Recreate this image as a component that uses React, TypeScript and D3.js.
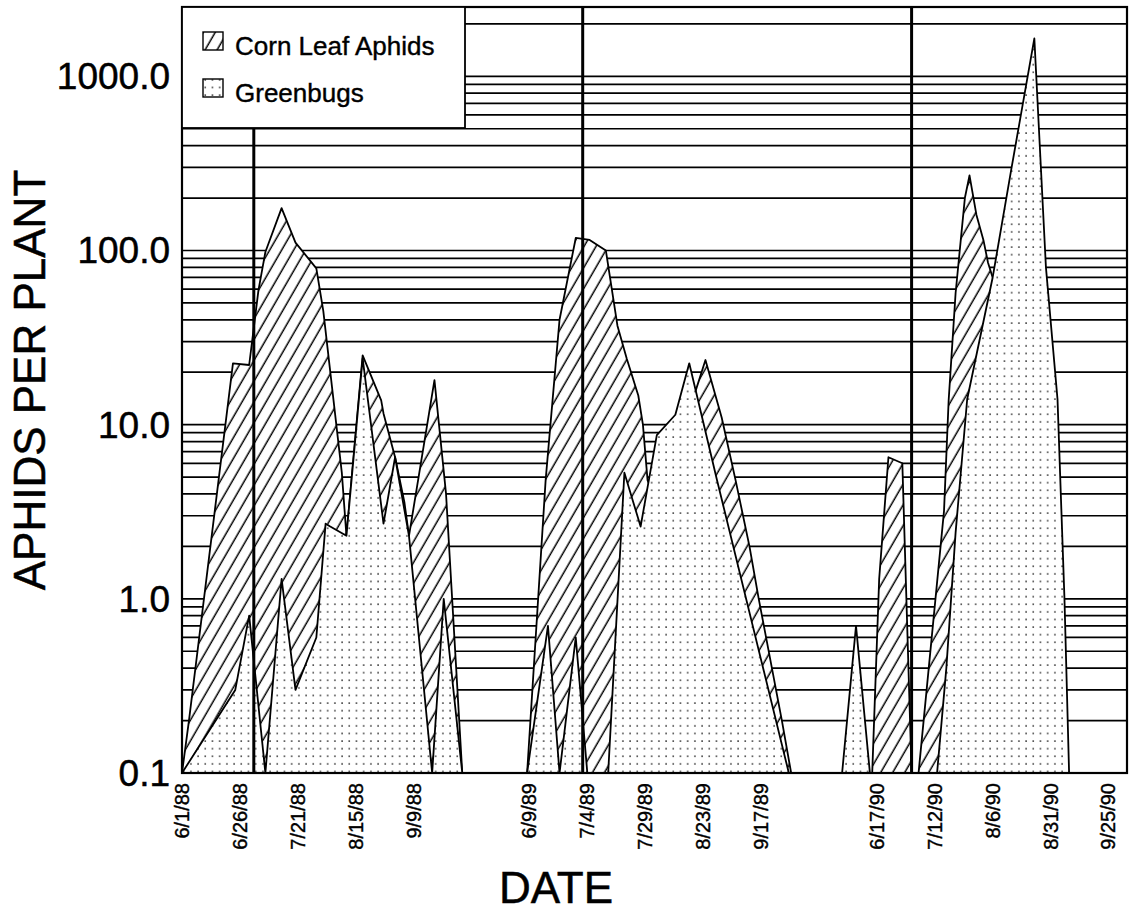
import { useEffect, useRef } from 'react'
import * as d3 from 'd3'

// Corn leaf aphids per plant (hatched area)
const claDates = [
  '6/1/88', '6/4/88', '6/23/88', '6/30/88', '7/4/88', '7/7/88', '7/14/88', '7/20/88', '7/29/88', '8/1/88',
  '8/9/88', '8/11/88', '8/18/88', '8/26/88', '8/27/88', '9/1/88', '9/5/88', '9/7/88', '9/18/88', '9/23/88', '9/30/88',
  '6/8/89', '6/16/89', '6/22/89', '6/29/89', '7/5/89', '7/12/89', '7/17/89', '7/21/89', '7/26/89', '7/28/89',
  '7/30/89', '8/3/89', '8/11/89', '8/17/89', '8/24/89', '8/31/89', '9/6/89', '9/12/89', '9/16/89', '9/26/89', '9/30/89',
  '6/15/90', '6/18/90', '6/22/90', '6/28/90', '7/2/90', '7/5/90', '7/16/90', '7/18/90', '7/21/90', '7/25/90',
  '7/27/90', '7/30/90', '8/2/90', '8/4/90', '8/6/90', '8/14/90', '8/24/90', '8/29/90',
]
const claValues = [
  0.1, 0.2, 22.5, 22, 59, 98, 175, 111, 79, 45,
  5.3, 2.3, 25, 13.8, 11.6, 6.5, 3.6, 2.3, 18, 4, 0.1,
  0.1, 4.8, 40, 118, 115, 100, 37, 24, 14.7, 10,
  4.8, 3.5, 6, 12, 23.5, 11, 4.8, 2.0, 1.0, 0.2, 0.1,
  0.1, 1.3, 6.5, 6.0, 0.1, 0.1, 3.2, 13.8, 57, 200,
  270, 160, 115, 85, 70, 20, 1.0, 0.1,
]

// Greenbugs per plant (dotted area)
const gbDates = [
  '6/1/88', '6/24/88', '6/30/88', '7/7/88', '7/14/88', '7/20/88', '7/29/88', '8/2/88', '8/4/88', '8/11/88',
  '8/18/88', '8/27/88', '9/1/88', '9/7/88', '9/17/88', '9/22/88', '9/30/88',
  '6/8/89', '6/17/89', '6/22/89', '6/29/89', '7/4/89', '7/13/89', '7/20/89', '7/27/89', '8/3/89', '8/11/89',
  '8/17/89', '8/29/89', '9/29/89',
  '6/2/90', '6/8/90', '6/14/90', '7/13/90', '7/17/90', '7/21/90', '7/26/90', '8/6/90', '8/14/90', '8/24/90',
  '8/29/90', '9/3/90', '9/6/90', '9/8/90',
]
const gbValues = [
  0.1, 0.3, 0.8, 0.1, 1.3, 0.3, 0.6, 2.7, 2.6, 2.3,
  24, 2.7, 6.5, 2.3, 0.1, 1.0, 0.1,
  0.1, 0.7, 0.1, 0.6, 0.1, 0.1, 5.3, 2.6, 8.7, 11.4,
  22.5, 4.8, 0.1,
  0.1, 0.7, 0.1, 0.1, 0.4, 2.4, 14, 70, 290, 1650,
  80, 14, 1.0, 0.1,
]

// heavy vertical reference lines, one per season
const markerDates = ['7/2/88', '7/2/89', '7/2/90']

// the three seasons are placed side by side (start, end of each)
const seasonBreaks = ['6/1/88', '10/21/88', '6/1/89', '10/21/89', '6/1/90', '10/3/90']

const tickLabels = [
  '6/1/88', '6/26/88', '7/21/88', '8/15/88', '9/9/88',
  '6/9/89', '7/4/89', '7/29/89', '8/23/89', '9/17/89',
  '6/17/90', '7/12/90', '8/6/90', '8/31/90', '9/25/90',
]
const yTicks = [0.1, 1, 10, 100, 1000]

const parseDate = (s: string) => {
  const [m, d, y] = s.split('/').map(Number)
  return new Date(1900 + y, m - 1, d)
}

function App() {
  const svgRef = useRef<SVGSVGElement>(null)

  useEffect(() => {
    const width = 1131
    const height = 920
    const margin = { top: 7, right: 4, bottom: 147, left: 182 }
    const font = 'Liberation Sans, Arial, Helvetica, sans-serif'

    const svg = d3.select(svgRef.current)
    svg.selectAll('*').remove()
    svg.attr('width', width).attr('height', height)

    const left = margin.left
    const right = width - margin.right
    const top = margin.top
    const bottom = height - margin.bottom

    // piecewise time scale: gaps between seasons are squeezed out
    const breaks = seasonBreaks.map(parseDate)
    let acc = 0
    const seasonDays = breaks.map((d, i) => {
      if (i % 2 === 1) acc += d3.timeDay.count(breaks[i - 1], d)
      return acc
    })
    const dayScale = d3.scaleLinear().domain([0, acc]).range([left, right])
    const x = d3.scaleTime().domain(breaks).range(seasonDays.map(d => dayScale(d)))

    const y = d3.scaleLog().domain([0.1, 2500]).range([bottom, top])

    const defs = svg.append('defs')
    const hatch = defs.append('pattern')
      .attr('id', 'hatch')
      .attr('patternUnits', 'userSpaceOnUse')
      .attr('width', 10.4)
      .attr('height', 10)
      .attr('patternTransform', 'rotate(30)')
    hatch.append('rect').attr('width', 10.4).attr('height', 10).attr('fill', '#fff')
    hatch.append('line')
      .attr('x1', 5).attr('x2', 5).attr('y1', -1).attr('y2', 11)
      .attr('stroke', '#000').attr('stroke-width', 1.5)

    const dots = defs.append('pattern')
      .attr('id', 'dots')
      .attr('patternUnits', 'userSpaceOnUse')
      .attr('width', 7.2)
      .attr('height', 7.6)
    dots.append('rect').attr('width', 7.2).attr('height', 7.6).attr('fill', '#fff')
    dots.append('rect').attr('x', 3).attr('y', 3.2).attr('width', 1.4).attr('height', 1.4).attr('fill', '#111')

    // log grid lines at every minor step
    const gridValues: number[] = []
    for (let e = -1; e <= 3; e++) {
      for (let m = 1; m <= 9; m++) {
        const v = m * Math.pow(10, e)
        if (v > 0.1 && v < 2500) gridValues.push(v)
      }
    }
    svg.append('g')
      .selectAll('line')
      .data(gridValues)
      .join('line')
      .attr('x1', left)
      .attr('x2', right)
      .attr('y1', d => y(d))
      .attr('y2', d => y(d))
      .attr('stroke', '#000')
      .attr('stroke-width', 1.7)

    const area = d3.area<[Date, number]>()
      .x(d => x(d[0]))
      .y0(bottom)
      .y1(d => y(d[1]))

    const claData: [Date, number][] = claDates.map((d, i) => [parseDate(d), claValues[i]])
    const gbData: [Date, number][] = gbDates.map((d, i) => [parseDate(d), gbValues[i]])

    const drawSeries = (data: [Date, number][], fill: string) => {
      const seasons = d3.groups(data, d => d[0].getFullYear())
      svg.append('g')
        .selectAll('path')
        .data(seasons)
        .join('path')
        .attr('d', d => area(d[1]))
        .attr('fill', fill)
        .attr('stroke', '#000')
        .attr('stroke-width', 1.8)
        .attr('stroke-linejoin', 'round')
    }
    drawSeries(claData, 'url(#hatch)')
    drawSeries(gbData, 'url(#dots)')

    // heavy vertical lines
    svg.append('g')
      .selectAll('line')
      .data(markerDates.map(parseDate))
      .join('line')
      .attr('x1', d => x(d))
      .attr('x2', d => x(d))
      .attr('y1', top)
      .attr('y2', bottom)
      .attr('stroke', '#000')
      .attr('stroke-width', 3)

    // frame
    svg.append('rect')
      .attr('x', left)
      .attr('y', top)
      .attr('width', right - left)
      .attr('height', bottom - top)
      .attr('fill', 'none')
      .attr('stroke', '#000')
      .attr('stroke-width', 2.2)

    // legend
    const legend = svg.append('g')
    legend.append('rect')
      .attr('x', left).attr('y', top)
      .attr('width', 283).attr('height', 121)
      .attr('fill', '#fff').attr('stroke', '#000').attr('stroke-width', 1.8)
    const legendItems = [
      { label: 'Corn Leaf Aphids', fill: 'url(#hatch)' },
      { label: 'Greenbugs', fill: 'url(#dots)' },
    ]
    legendItems.forEach((item, i) => {
      legend.append('rect')
        .attr('x', 203).attr('y', 32 + i * 47)
        .attr('width', 20).attr('height', 18)
        .attr('fill', item.fill).attr('stroke', '#000').attr('stroke-width', 1.4)
      legend.append('text')
        .attr('x', 235).attr('y', 55 + i * 47)
        .attr('font-family', font).attr('font-size', 26)
        .attr('fill', '#000').attr('stroke', '#000').attr('stroke-width', 0.4)
        .text(item.label)
    })

    // y tick labels
    svg.append('g')
      .selectAll('text')
      .data(yTicks)
      .join('text')
      .attr('x', left - 12)
      .attr('y', d => y(d))
      .attr('dy', '0.35em')
      .attr('text-anchor', 'end')
      .attr('font-family', font)
      .attr('font-size', 37)
      .attr('fill', '#000')
      .attr('stroke', '#000')
      .attr('stroke-width', 0.5)
      .text(d => d3.format('.1f')(d))

    // x tick labels (rotated)
    svg.append('g')
      .selectAll('text')
      .data(tickLabels)
      .join('text')
      .attr('transform', d => `translate(${x(parseDate(d))},${bottom + 10}) rotate(-90)`)
      .attr('dy', '0.35em')
      .attr('text-anchor', 'end')
      .attr('font-family', font)
      .attr('font-size', 20)
      .attr('fill', '#000')
      .attr('stroke', '#000')
      .attr('stroke-width', 0.4)
      .text(d => d)

    // axis titles
    svg.append('text')
      .attr('transform', 'translate(45,380) rotate(-90)')
      .attr('text-anchor', 'middle')
      .attr('font-family', font)
      .attr('font-size', 44)
      .attr('fill', '#000')
      .attr('stroke', '#000')
      .attr('stroke-width', 0.5)
      .text('APHIDS PER PLANT')

    svg.append('text')
      .attr('x', 556)
      .attr('y', 903)
      .attr('text-anchor', 'middle')
      .attr('font-family', font)
      .attr('font-size', 44)
      .attr('fill', '#000')
      .attr('stroke', '#000')
      .attr('stroke-width', 0.5)
      .text('DATE')
  }, [])

  return (
    <div style={{ position: 'absolute', left: 0, top: 0, background: '#fff' }}>
      <svg ref={svgRef} style={{ display: 'block' }}></svg>
    </div>
  )
}

export default App
